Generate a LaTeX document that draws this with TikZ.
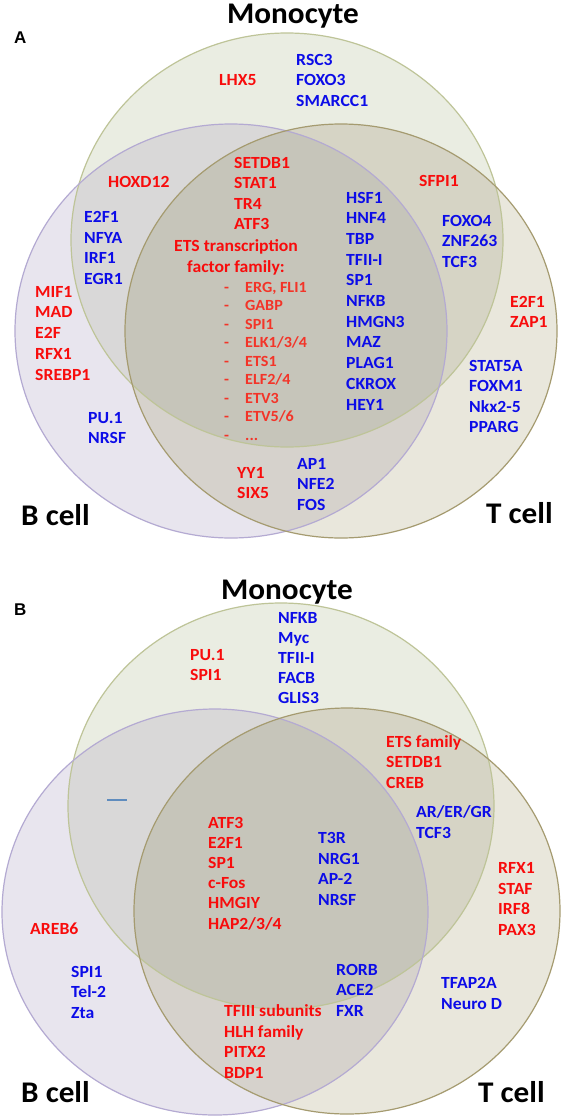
\documentclass[tikz,border=0pt]{standalone}
\usepackage{fontspec}
\setmainfont{Carlito}
\newfontfamily\panelfont{Liberation Sans}
\definecolor{genered}{RGB}{248,12,12}
\definecolor{geneblue}{RGB}{12,12,232}
\definecolor{etsred}{RGB}{243,52,40}
\definecolor{monoonly}{RGB}{234,237,226}
\definecolor{bonly}{RGB}{232,229,238}
\definecolor{tonly}{RGB}{233,231,220}
\definecolor{bmcol}{RGB}{217,216,216}
\definecolor{mtcol}{RGB}{214,212,197}
\definecolor{btcol}{RGB}{214,210,204}
\definecolor{bmtcol}{RGB}{198,197,186}
\definecolor{monoline}{RGB}{190,196,152}
\definecolor{bline}{RGB}{180,170,210}
\definecolor{tline}{RGB}{165,155,112}
\definecolor{dashblue}{RGB}{95,140,190}
\tikzset{
  gene/.style={anchor=base west,align=left,inner sep=0pt,xscale=1.04,font=\fontsize{17}{20.5}\selectfont\bfseries},
  red/.style={gene,text=genered},
  blue/.style={gene,text=geneblue},
  ets/.style={gene,text=etsred,font=\fontsize{15.5}{18.5}\selectfont\bfseries},
  cell/.style={anchor=base west,inner sep=0pt,xscale=1.04,font=\fontsize{30}{36}\selectfont\bfseries},
  panel/.style={anchor=base west,inner sep=0pt,font=\panelfont\fontsize{17}{20}\selectfont\bfseries},
  rA/.style={x radius=216,y radius=207},
  rB/.style={x radius=213,y radius=203},
}
\begin{document}
\begin{tikzpicture}[x=1pt,y=-1pt]
\useasboundingbox (0,0) rectangle (561,1119);
\fill[white] (0,0) rectangle (561,1119);
% A  (nodes sit on the baseline of their last line)
\coordinate (BA) at (231,331); \coordinate (MA) at (287,240); \coordinate (TA) at (341,331);
\fill[monoonly] (MA) ellipse[rA];
\fill[bonly] (BA) ellipse[rA];
\fill[tonly] (TA) ellipse[rA];
\begin{scope}\clip (BA) ellipse[rA]; \fill[bmcol] (MA) ellipse[rA]; \fill[btcol] (TA) ellipse[rA]; \end{scope}
\begin{scope}\clip (MA) ellipse[rA]; \fill[mtcol] (TA) ellipse[rA]; \end{scope}
\begin{scope}\clip (MA) ellipse[rA]; \clip (BA) ellipse[rA]; \fill[bmtcol] (TA) ellipse[rA]; \end{scope}
\draw[monoline,line width=1.2pt] (MA) ellipse[rA];
\draw[bline,line width=1.2pt] (BA) ellipse[rA];
\draw[tline,line width=1.2pt] (TA) ellipse[rA];
\node[cell,anchor=base] (monoA) at (293,23) {Monocyte};
\node[panel] (labA) at (14,43) {A};
\node[cell] (bcellA) at (21,525) {B cell};
\node[cell,anchor=base east] (tcellA) at (553,523) {T cell};
\node[red] (lhx) at (219,85) {LHX5};
\node[blue] (rsc) at (296,106) {RSC3\\FOXO3\\SMARCC1};
\node[red] (hoxd) at (108,187) {HOXD12};
\node[red] (setdb) at (234,229.5) {SETDB1\\STAT1\\TR4\\ATF3};
\node[red,anchor=base,align=center] (etsfam) at (236,272) {ETS transcription\\factor family:};
\node[ets] (etsdash) at (224,440) {-\\-\\-\\-\\-\\-\\-\\-\\-};
\node[ets] (etslist) at (245,440) {ERG, FLI1\\GABP\\SPI1\\ELK1/3/4\\ETS1\\ELF2/4\\ETV3\\ETV5/6\\...};
\node[red] (sfpi) at (419,186) {SFPI1};
\node[blue,font=\fontsize{17}{20.7}\selectfont\bfseries] (hsf) at (346,410) {HSF1\\HNF4\\TBP\\TFII-I\\SP1\\NFKB\\HMGN3\\MAZ\\PLAG1\\CKROX\\HEY1};
\node[blue] (etwo) at (84,284) {E2F1\\NFYA\\IRF1\\EGR1};
\node[blue] (foxo) at (442,267) {FOXO4\\ZNF263\\TCF3};
\node[red,font=\fontsize{17}{20.75}\selectfont\bfseries] (mif) at (35,380) {MIF1\\MAD\\E2F\\RFX1\\SREBP1};
\node[red] (zap) at (510,327.5) {E2F1\\ZAP1};
\node[blue] (stat) at (469,432.5) {STAT5A\\FOXM1\\Nkx2-5\\PPARG};
\node[blue] (puA) at (88,443.5) {PU.1\\NRSF};
\node[red] (yy) at (237,498.5) {YY1\\SIX5};
\node[blue] (ap) at (297,510) {AP1\\NFE2\\FOS};
% B
\coordinate (BB) at (215,912); \coordinate (MB) at (281,806); \coordinate (TB) at (347,911);
\fill[monoonly] (MB) ellipse[rB];
\fill[bonly] (BB) ellipse[rB];
\fill[tonly] (TB) ellipse[rB];
\begin{scope}\clip (BB) ellipse[rB]; \fill[bmcol] (MB) ellipse[rB]; \fill[btcol] (TB) ellipse[rB]; \end{scope}
\begin{scope}\clip (MB) ellipse[rB]; \fill[mtcol] (TB) ellipse[rB]; \end{scope}
\begin{scope}\clip (MB) ellipse[rB]; \clip (BB) ellipse[rB]; \fill[bmtcol] (TB) ellipse[rB]; \end{scope}
\draw[monoline,line width=1.2pt] (MB) ellipse[rB];
\draw[bline,line width=1.2pt] (BB) ellipse[rB];
\draw[tline,line width=1.2pt] (TB) ellipse[rB];
\node[cell,anchor=base] (monoB) at (287,599) {Monocyte};
\node[panel] (labB) at (14,615) {B};
\node[cell] (bcellB) at (21,1102) {B cell};
\node[cell,anchor=base east] (tcellB) at (545,1102) {T cell};
\node[red] (pu) at (190,680.5) {PU.1\\SPI1};
\node[blue,font=\fontsize{17}{20.2}\selectfont\bfseries] (nfkb) at (278,703.8) {NFKB\\Myc\\TFII-I\\FACB\\GLIS3};
\node[red] (etsB) at (386,788) {ETS family\\SETDB1\\CREB};
\node[blue] (ar) at (416,838) {AR/ER/GR\\TCF3};
\coordinate (d1) at (107,800); \coordinate (d2) at (127,800);
\draw[dashblue,line width=2pt] (d1)--(d2);
\node[red,font=\fontsize{17}{20.2}\selectfont\bfseries] (atf) at (208,929) {ATF3\\E2F1\\SP1\\c-Fos\\HMGIY\\HAP2/3/4};
\node[blue] (ttr) at (318,905) {T3R\\NRG1\\AP-2\\NRSF};
\node[red] (rfx) at (498,935) {RFX1\\STAF\\IRF8\\PAX3};
\node[red] (areb) at (30,934) {AREB6};
\node[blue] (spi) at (71,1018) {SPI1\\Tel-2\\Zta};
\node[blue] (tfap) at (441,1009) {TFAP2A\\Neuro D};
\node[red] (tfiii) at (224,1078) {TFIII subunits\\HLH family\\PITX2\\BDP1};
\node[blue] (rorb) at (336,1016) {RORB\\ACE2\\FXR};
\end{tikzpicture}
\end{document}
